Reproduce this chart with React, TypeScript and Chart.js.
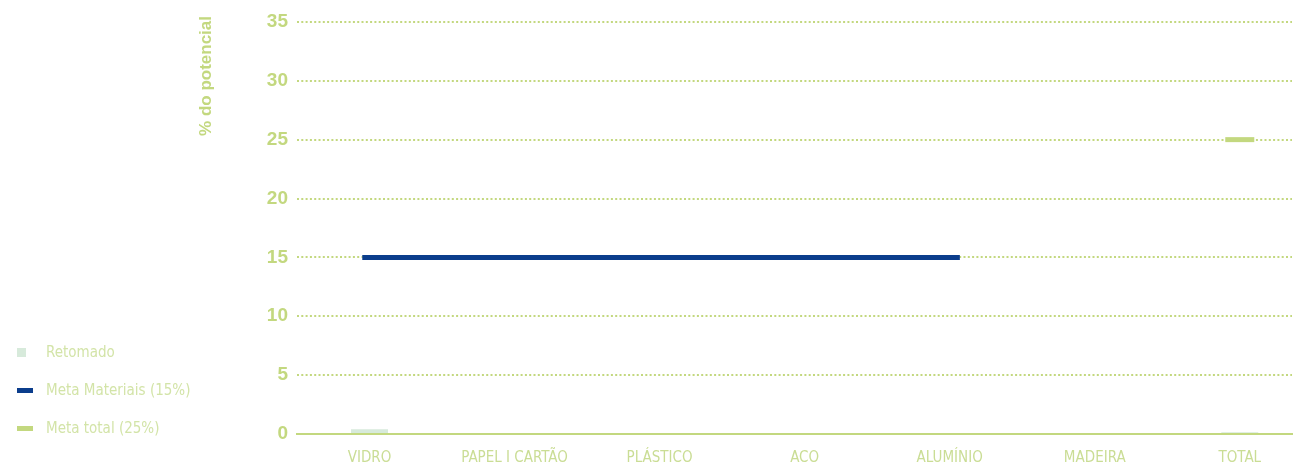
import React, { useEffect, useRef } from "react";
import { Chart, registerables } from "chart.js";

Chart.register(...registerables);

const categories = ["VIDRO", "PAPEL I CARTÃO", "PLÁSTICO", "ACO", "ALUMÍNIO", "MADEIRA", "TOTAL"];
const categoryPositions = [0, 1, 2, 3, 4, 5, 6];
const retomadoValues = [0.4, 0, 0, 0, 0, 0, 0.15];
const metaMateriaisX = [-0.05, 4.07];
const metaMateriaisY = [15, 15];
const metaTotalX = [5.9, 6.1];
const metaTotalY = [25, 25];
const yTicks = [0, 5, 10, 15, 20, 25, 30, 35];

const GREEN = "#c3d87f";
const LABEL_GREEN = "#cadd95";
const LEGEND_GREEN = "#d3e4a8";
const NAVY = "#0b3d8c";
const BAR = "#d7eadb";
const NARROW = '"Liberation Sans Narrow", "Arial Narrow", "DejaVu Sans Condensed", sans-serif';

export default function App() {
  const canvasRef = useRef<HTMLCanvasElement | null>(null);

  useEffect(() => {
    const ctx = canvasRef.current!;
    const chart = new Chart(ctx, {
      type: "bar",
      data: {
        datasets: [
          {
            type: "line",
            label: "Meta Materiais (15%)",
            data: metaMateriaisX.map((x, i) => ({ x, y: metaMateriaisY[i] })),
            borderColor: NAVY,
            backgroundColor: NAVY,
            borderWidth: 5,
            pointRadius: 0,
            borderCapStyle: "butt",
            order: 0,
          } as any,
          {
            type: "line",
            label: "Meta total (25%)",
            data: metaTotalX.map((x, i) => ({ x, y: metaTotalY[i] })),
            borderColor: GREEN,
            backgroundColor: GREEN,
            borderWidth: 5,
            pointRadius: 0,
            borderCapStyle: "butt",
            order: 0,
          } as any,
          {
            type: "bar",
            label: "Retomado",
            data: categoryPositions.map((x, i) => ({ x, y: retomadoValues[i] })),
            backgroundColor: BAR,
            borderWidth: 0,
            barPercentage: 0.255,
            categoryPercentage: 1,
            order: 1,
          } as any,
        ],
      },
      options: {
        animation: false,
        responsive: true,
        maintainAspectRatio: false,
        layout: { padding: { left: 0, top: 16, right: 5, bottom: 0 } },
        plugins: {
          legend: { display: false },
          tooltip: { enabled: false },
        },
        scales: {
          x: {
            type: "linear",
            offset: false,
            min: -0.5,
            max: 6.36,
            afterBuildTicks: (axis: any) => {
              axis.ticks = categoryPositions.map((v) => ({ value: v }));
            },
            afterFit: (axis: any) => {
              axis.height = 33;
            },
            grid: { display: false, drawTicks: false },
            border: { display: true, color: GREEN, width: 2 },
            ticks: {
              color: LABEL_GREEN,
              font: { family: NARROW, size: 15 },
              padding: 15,
              autoSkip: false,
              maxRotation: 0,
              callback: (v: any) => categories[Number(v)] ?? "",
            },
          },
          y: {
            min: 0,
            max: 35.5,
            afterBuildTicks: (axis: any) => {
              axis.ticks = yTicks.map((v) => ({ value: v }));
            },
            afterFit: (axis: any) => {
              axis.width = 297;
              axis.paddingTop = 0;
              axis.paddingBottom = 0;
            },
            grid: {
              drawTicks: false,
              lineWidth: 2,
              color: (c: any) => (c.tick && c.tick.value === 0 ? "rgba(0,0,0,0)" : GREEN),
            },
            border: { display: false, dash: [2, 2.3] },
            ticks: {
              color: GREEN,
              font: { family: '"Liberation Sans", Arial, sans-serif', size: 19, weight: "bold" },
              padding: 9,
            },
            title: {
              display: true,
              text: "% do potencial",
              align: "end",
              color: GREEN,
              font: { family: '"Liberation Sans", Arial, sans-serif', size: 17, weight: "bold" },
              padding: { top: 196, bottom: 0 },
            },
          },
        },
      } as any,
    });
    return () => chart.destroy();
  }, []);

  const legendItems = [
    { label: "Retomado", color: BAR, w: 9, h: 9, y: 352 },
    { label: "Meta Materiais (15%)", color: NAVY, w: 16, h: 5, y: 390 },
    { label: "Meta total (25%)", color: GREEN, w: 16, h: 5, y: 428 },
  ];

  return (
    <div style={{ position: "absolute", left: 0, top: 0, width: 1297, height: 467, background: "#fff" }}>
      <canvas ref={canvasRef} />
      {legendItems.map((it) => (
        <div key={it.label}>
          <div
            style={{
              position: "absolute",
              left: 17,
              top: it.y - it.h / 2,
              width: it.w,
              height: it.h,
              background: it.color,
            }}
          />
          <div
            style={{
              position: "absolute",
              left: 46,
              top: it.y - 10,
              height: 20,
              lineHeight: "20px",
              fontFamily: NARROW,
              fontSize: 15,
              color: LEGEND_GREEN,
              whiteSpace: "nowrap",
            }}
          >
            {it.label}
          </div>
        </div>
      ))}
    </div>
  );
}
